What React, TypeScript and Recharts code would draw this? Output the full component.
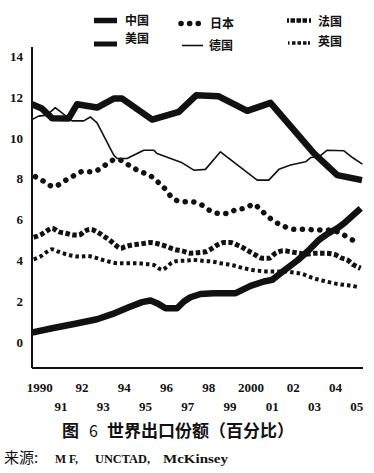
import React from 'react';
import { LineChart, Line, XAxis, YAxis } from 'recharts';

// ---- Data ----
const usYears = [1989.63, 1990.1, 1990.58, 1991.36, 1991.76, 1992.71, 1993.5, 1993.9, 1995.32, 1996.58, 1997.4, 1998.47, 1999.82, 2000.92, 2002.98, 2004.08, 2005.25];
const usValues = [11.66, 11.45, 10.98, 10.96, 11.66, 11.5, 11.94, 11.94, 10.91, 11.29, 12.1, 12.05, 11.34, 11.73, 9.25, 8.19, 7.94];

const deYears = [1989.63, 1989.94, 1990.34, 1990.73, 1991.53, 1992.08, 1992.39, 1992.71, 1993.5, 1993.66, 1994.13, 1994.92, 1995.39, 1995.55, 1996.74, 1997.29, 1997.84, 1998.55, 2000.29, 2000.84, 2001.32, 2001.87, 2002.58, 2002.82, 2003.21, 2003.61, 2004.4, 2004.8, 2005.27];
const deValues = [10.91, 11.08, 11.13, 11.5, 10.85, 10.85, 11.04, 10.75, 9.17, 9.0, 9.0, 9.41, 9.41, 9.25, 8.79, 8.43, 8.47, 9.33, 7.94, 7.94, 8.47, 8.68, 8.84, 9.05, 9.08, 9.41, 9.38, 9.05, 8.73];

const jpYears = [1989.79, 1990.23, 1990.65, 1991.18, 1991.53, 1991.84, 1992.08, 1992.47, 1992.95, 1993.34, 1993.66, 1994.21, 1994.68, 1995.24, 1995.63, 1995.95, 1996.22, 1996.74, 1997.21, 1997.76, 1998.08, 1998.52, 1998.95, 1999.3, 1999.74, 2000.13, 2000.42, 2000.73, 2001.05, 2001.43, 2002.06, 2002.58, 2003.1, 2003.58, 2004.08, 2004.32, 2004.64, 2005.11];
const jpValues = [8.11, 7.86, 7.62, 7.91, 8.11, 8.3, 8.38, 8.35, 8.56, 8.87, 8.96, 8.68, 8.4, 8.15, 7.81, 7.49, 7.13, 6.88, 6.88, 6.67, 6.43, 6.31, 6.31, 6.51, 6.56, 6.77, 6.51, 6.23, 5.95, 5.74, 5.53, 5.53, 5.5, 5.5, 5.41, 5.3, 5.09, 4.89];

const frYears = [1989.71, 1990.02, 1990.34, 1990.58, 1990.89, 1991.21, 1991.6, 1991.84, 1992.16, 1992.39, 1992.71, 1993.02, 1993.34, 1993.58, 1993.82, 1994.05, 1994.37, 1994.76, 1995.24, 1995.63, 1996.03, 1996.34, 1996.74, 1997.13, 1997.53, 1997.84, 1998.16, 1998.4, 1998.71, 1999.03, 1999.35, 1999.66, 1999.94, 2000.21, 2000.53, 2000.84, 2001.16, 2001.55, 2001.87, 2002.27, 2002.66, 2003.06, 2003.53, 2003.92, 2004.32, 2004.56, 2004.87, 2005.19];
const frValues = [5.14, 5.25, 5.46, 5.58, 5.41, 5.34, 5.25, 5.25, 5.46, 5.53, 5.41, 5.2, 4.97, 4.76, 4.6, 4.68, 4.76, 4.81, 4.88, 4.81, 4.68, 4.55, 4.47, 4.36, 4.39, 4.43, 4.6, 4.76, 4.88, 4.88, 4.76, 4.6, 4.43, 4.27, 4.11, 4.11, 4.36, 4.48, 4.43, 4.36, 4.32, 4.36, 4.36, 4.31, 4.11, 4.03, 3.78, 3.62];

const ukYears = [1989.71, 1990.02, 1990.34, 1990.58, 1990.89, 1991.21, 1991.6, 1991.92, 1992.24, 1992.55, 1992.87, 1993.26, 1993.66, 1994.05, 1994.53, 1995.0, 1995.39, 1995.63, 1995.79, 1996.03, 1996.26, 1996.58, 1996.97, 1997.29, 1997.76, 1998.16, 1998.55, 1998.87, 1999.27, 1999.66, 2000.06, 2000.45, 2000.84, 2001.24, 2001.64, 2002.03, 2002.43, 2002.74, 2003.06, 2003.37, 2003.69, 2004.08, 2004.48, 2004.8, 2005.06];
const ukValues = [4.06, 4.19, 4.43, 4.55, 4.43, 4.32, 4.22, 4.19, 4.22, 4.16, 4.06, 3.95, 3.87, 3.87, 3.87, 3.83, 3.78, 3.62, 3.54, 3.7, 3.9, 3.98, 4.0, 4.03, 3.98, 3.95, 3.87, 3.82, 3.73, 3.62, 3.54, 3.49, 3.46, 3.46, 3.46, 3.41, 3.34, 3.21, 3.1, 3.02, 2.94, 2.85, 2.8, 2.76, 2.69];

const cnYears = [1989.63, 1990.58, 1991.68, 1992.71, 1993.42, 1994.21, 1994.84, 1995.24, 1995.55, 1995.95, 1996.5, 1996.82, 1997.13, 1997.61, 1998.24, 1999.27, 1999.98, 2000.61, 2001.0, 2001.4, 2002.19, 2002.66, 2003.21, 2003.61, 2004.08, 2004.4, 2005.19];
const cnValues = [0.47, 0.68, 0.9, 1.12, 1.37, 1.71, 1.96, 2.04, 1.91, 1.66, 1.66, 1.99, 2.2, 2.36, 2.4, 2.4, 2.76, 2.97, 3.05, 3.38, 4.0, 4.43, 5.01, 5.3, 5.58, 5.82, 6.56];

const xTickValues = [1990, 1991, 1992, 1993, 1994, 1995, 1996, 1997, 1998, 1999, 2000, 2001, 2002, 2003, 2004, 2005];
const xTickLabels = ['1990', '91', '92', '93', '94', '95', '96', '97', '98', '99', '2000', '01', '02', '03', '04', '05'];
const yTickValues = [0, 2, 4, 6, 8, 10, 12, 14];

const legendNames = ['中国', '美国', '日本', '德国', '法国', '英国'];

const build = (xs: number[], ys: number[]) => xs.map((x, i) => ({ x, y: ys[i] }));

const serif = '"Liberation Serif", "DejaVu Serif", serif';
const cjk = '"Noto Sans CJK SC", "Noto Sans", sans-serif';

const XTick = (props: any) => {
  const { x, y, payload } = props;
  const i = xTickValues.indexOf(payload.value);
  const row = i % 2;
  return (
    <text x={x} y={y + (row ? 35 : 15.5)} textAnchor="middle" fontFamily={serif} fontWeight="bold" fontSize={13} fill="#111">
      {xTickLabels[i]}
    </text>
  );
};

const YTick = (props: any) => {
  const { x, y, payload } = props;
  return (
    <text x={x - 1} y={y + 4.5} textAnchor="end" fontFamily={serif} fontWeight="bold" fontSize={13} fill="#111">
      {payload.value}
    </text>
  );
};

export default function App() {
  return (
    <div style={{ position: 'absolute', left: 0, top: 0, width: 374, height: 473, background: '#fff' }}>
      <LineChart width={374} height={473} margin={{ top: 47, right: 11, bottom: 55, left: 0 }}>
        <XAxis
          dataKey="x"
          type="number"
          domain={[1989.63, 2005.3]}
          allowDataOverflow
          ticks={xTickValues}
          tick={<XTick />}
          tickLine={false}
          axisLine={{ stroke: '#111', strokeWidth: 2 }}
          height={50}
          interval={0}
        />
        <YAxis
          type="number"
          domain={[-1.27, 14.47]}
          allowDataOverflow
          ticks={yTickValues}
          tick={<YTick />}
          tickLine={false}
          axisLine={{ stroke: '#111', strokeWidth: 2 }}
          width={32}
          interval={0}
        />
        <Line data={build(deYears, deValues)} dataKey="y" type="linear" stroke="#111" strokeWidth={1.6} dot={false} isAnimationActive={false} strokeLinejoin="round" />
        <Line data={build(usYears, usValues)} dataKey="y" type="linear" stroke="#111" strokeWidth={6.5} dot={false} isAnimationActive={false} strokeLinejoin="round" />
        <Line data={build(jpYears, jpValues)} dataKey="y" type="monotone" stroke="#111" strokeWidth={5.5} strokeDasharray="0.1 8.6" strokeLinecap="round" dot={false} isAnimationActive={false} />
        <Line data={build(frYears, frValues)} dataKey="y" type="monotone" stroke="#111" strokeWidth={5} strokeDasharray="4.5 2.5" dot={false} isAnimationActive={false} />
        <Line data={build(ukYears, ukValues)} dataKey="y" type="monotone" stroke="#111" strokeWidth={4} strokeDasharray="3.5 3" dot={false} isAnimationActive={false} />
        <Line data={build(cnYears, cnValues)} dataKey="y" type="linear" stroke="#111" strokeWidth={6.5} dot={false} isAnimationActive={false} strokeLinejoin="round" />
      </LineChart>
      <svg width={374} height={473} style={{ position: 'absolute', left: 0, top: 0, pointerEvents: 'none' }}>
        {/* legend row 1 */}
        <line x1={94} x2={117} y1={20.5} y2={20.5} stroke="#111" strokeWidth={5.5} />
        <text x={125} y={25} fontFamily={cjk} fontWeight="bold" fontSize={12} fill="#111">{legendNames[0]}</text>
        <line x1={181} x2={206} y1={23.5} y2={23.5} stroke="#111" strokeWidth={5.5} strokeDasharray="0.1 8.5" strokeLinecap="round" />
        <text x={210} y={28} fontFamily={cjk} fontWeight="bold" fontSize={12} fill="#111">{legendNames[2]}</text>
        <line x1={287} x2={312} y1={20.5} y2={20.5} stroke="#111" strokeWidth={4.5} strokeDasharray="2 1.5 4.5 1.5 4.5 1.5 4.5 2" />
        <text x={318} y={26} fontFamily={cjk} fontWeight="bold" fontSize={12} fill="#111">{legendNames[4]}</text>
        {/* legend row 2 */}
        <line x1={94} x2={117} y1={44} y2={44} stroke="#111" strokeWidth={5} />
        <text x={125} y={42.5} fontFamily={cjk} fontWeight="bold" fontSize={12} fill="#111">{legendNames[1]}</text>
        <line x1={182} x2={203} y1={45.5} y2={45.5} stroke="#111" strokeWidth={1.6} />
        <text x={209} y={50} fontFamily={cjk} fontWeight="bold" fontSize={12} fill="#111">{legendNames[3]}</text>
        <line x1={288} x2={310} y1={43} y2={43} stroke="#111" strokeWidth={3.5} strokeDasharray="1.5 2.5 3.5 2 3.5 2 3.5" />
        <text x={318} y={45.5} fontFamily={cjk} fontWeight="bold" fontSize={12} fill="#111">{legendNames[5]}</text>
        {/* caption */}
        <text x={62} y={437} fontFamily={cjk} fontWeight="bold" fontSize={17} fill="#111">图</text>
        <text x={89} y={437} fontFamily={cjk} fontSize={16} fill="#111">6</text>
        <text x={107} y={437} fontFamily={cjk} fontWeight="bold" fontSize={17} fill="#111">世界出口份额（百分比）</text>
        {/* source */}
        <text x={4} y={463} fontFamily={cjk} fontSize={15} fill="#111">来源:</text>
        <text x={55} y={463} fontFamily={serif} fontWeight="bold" fontSize={13} fill="#111" textLength={23} lengthAdjust="spacingAndGlyphs">M F,</text>
        <text x={95} y={463} fontFamily={serif} fontWeight="bold" fontSize={13} fill="#111" textLength={55} lengthAdjust="spacingAndGlyphs">UNCTAD,</text>
        <text x={163} y={463} fontFamily={serif} fontWeight="bold" fontSize={13} fill="#111" textLength={65} lengthAdjust="spacingAndGlyphs">McKinsey</text>
      </svg>
    </div>
  );
}
